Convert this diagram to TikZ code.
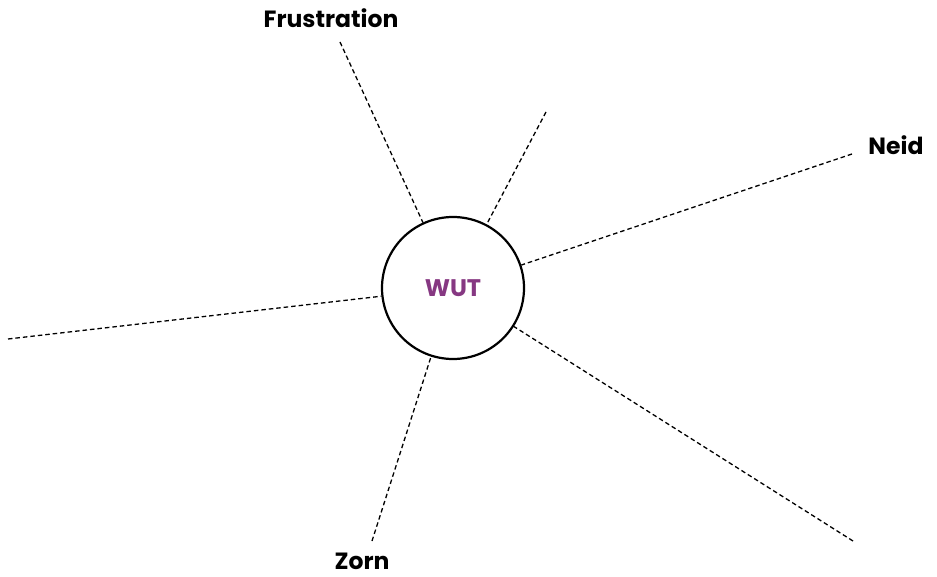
\documentclass[tikz,border=0pt]{standalone}
\usepackage{fontspec}
\setmainfont{Poppins}
\definecolor{wutpurple}{RGB}{134,56,130}
\begin{document}
\begin{tikzpicture}[x=1pt,y=-1pt,
  ray/.style={draw=black,line width=1.3pt,dash pattern=on 4.5pt off 3pt},
  label/.style={font=\fontsize{23.5}{26}\selectfont\bfseries,text=black,inner sep=0pt},
  hub/.style={circle,draw=black,line width=2.2pt,minimum size=142pt,inner sep=0pt,
    font=\fontsize{24}{28}\selectfont\bfseries,text=wutpurple}]
  \useasboundingbox (0,0) rectangle (937,577);
  \node[hub] (wut) at (453,288) {WUT};
  \node[label] (frust) at (331,18) {Frustration};
  \node[label] (neid) at (896,145) {Neid};
  \node[label] (zorn) at (362,561) {Zorn};
  \coordinate (e1) at (340,42);
  \coordinate (e2) at (546,112);
  \coordinate (e3) at (852,154);
  \coordinate (e4) at (8,339);
  \coordinate (e5) at (372,541);
  \coordinate (e6) at (853,541);
  \draw[ray] (e1) -- (wut);
  \draw[ray] (e2) -- (wut);
  \draw[ray] (e3) -- (wut);
  \draw[ray] (e4) -- (wut);
  \draw[ray] (e5) -- (wut);
  \draw[ray] (e6) -- (wut);
\end{tikzpicture}
\end{document}
